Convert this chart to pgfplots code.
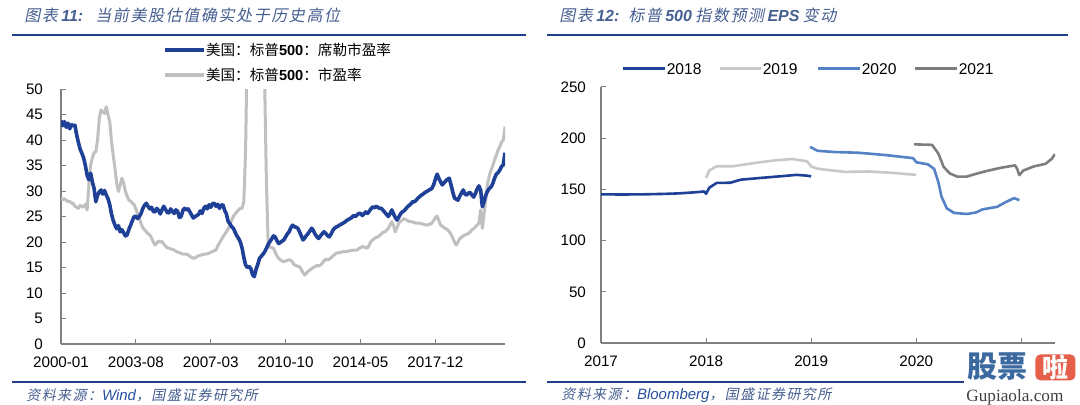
\documentclass[border=0pt]{standalone}
\usepackage{fontspec}
\usepackage{pgfplots}
\pgfplotsset{compat=1.18}
\setmainfont{Liberation Sans}
\newfontfamily\cjk{Noto Sans CJK SC}
\newfontfamily\cjkit[FakeSlant=0.2,LetterSpace=10]{Noto Sans CJK SC}
\newfontfamily\wmserif{Liberation Serif}
\definecolor{shblue}{RGB}{30,64,150}
\definecolor{pegray}{RGB}{192,192,192}
\definecolor{cA}{RGB}{30,64,150}
\definecolor{cB}{RGB}{200,200,200}
\definecolor{cC}{RGB}{84,130,196}
\definecolor{cD}{RGB}{125,125,125}
\definecolor{axisgray}{RGB}{128,128,128}
\definecolor{rulec}{RGB}{32,62,138}
\definecolor{titlec}{RGB}{70,95,145}
\definecolor{srcblue}{RGB}{40,80,160}
\definecolor{wmblue}{RGB}{60,105,160}
\definecolor{wmred}{RGB}{230,95,75}
\pgfplotsset{
  mystyle/.style={
    scale only axis, axis lines=left,
    axis line style={draw=axisgray, line width=0.6pt, -},
    tick style={draw=axisgray, line width=0.5pt},
    major tick length=2.5pt, tick align=inside,
    ticklabel style={font=\fontsize{7.6}{9}\selectfont, text=black},
    /pgf/number format/assume math mode=true,
    xticklabel style={yshift=-3pt},
  }
}
\begin{document}
\begin{tikzpicture}
\fill[white] (0,0) rectangle (540pt,-202.5pt);
\useasboundingbox (0,0) rectangle (540pt,-202.5pt);
% ---------- titles ----------
\node[anchor=west, inner sep=0, text=titlec] at (12pt,-7.5pt)
  {{\cjkit\fontsize{8}{9}\selectfont 图表}\,{\bfseries\itshape\fontsize{8}{9}\selectfont 11:}};
\node[anchor=west, inner sep=0, text=titlec] at (47.5pt,-7.5pt)
  {\cjkit\fontsize{8}{9}\selectfont 当前美股估值确实处于历史高位};
\node[anchor=west, inner sep=0, text=titlec] at (279.5pt,-7.5pt)
  {{\cjkit\fontsize{8}{9}\selectfont 图表}\,{\bfseries\itshape\fontsize{8}{9}\selectfont 12:}};
\node[anchor=west, inner sep=0, text=titlec] at (314pt,-7.5pt)
  {{\cjkit\fontsize{8}{9}\selectfont 标普}\,{\bfseries\itshape\fontsize{8}{9}\selectfont 500}\,{\cjkit\fontsize{8}{9}\selectfont 指数预测}\,{\bfseries\itshape\fontsize{8}{9}\selectfont EPS}\,{\cjkit\fontsize{8}{9}\selectfont 变动}};
\draw[rulec, line width=1.1pt] (6pt,-17.6pt) -- (263pt,-17.6pt);
\draw[rulec, line width=1.1pt] (273.5pt,-17.6pt) -- (534pt,-17.6pt);
% ---------- left legend ----------
\draw[shblue, line width=1.8pt] (82.5pt,-25pt) -- (102pt,-25pt);
\node[anchor=west, inner sep=0] at (102.8pt,-25pt)
  {\fontsize{7.3}{8}\selectfont{\cjk 美国：标普}\textbf{500}{\cjk ：席勒市盈率}};
\draw[pegray, line width=1.8pt] (82.5pt,-37.5pt) -- (102pt,-37.5pt);
\node[anchor=west, inner sep=0] at (102.8pt,-37.5pt)
  {\fontsize{7.3}{8}\selectfont{\cjk 美国：标普}\textbf{500}{\cjk ：市盈率}};
% ---------- right legend ----------
\draw[cA, line width=1.5pt] (311.5pt,-34.5pt) -- (332.5pt,-34.5pt);
\node[anchor=west, inner sep=0] at (333.2pt,-34.5pt) {\fontsize{7.8}{9}\selectfont 2018};
\draw[cB, line width=1.5pt] (360pt,-34.5pt) -- (380.5pt,-34.5pt);
\node[anchor=west, inner sep=0] at (381.2pt,-34.5pt) {\fontsize{7.8}{9}\selectfont 2019};
\draw[cC, line width=1.5pt] (409pt,-34.5pt) -- (430pt,-34.5pt);
\node[anchor=west, inner sep=0] at (430.7pt,-34.5pt) {\fontsize{7.8}{9}\selectfont 2020};
\draw[cD, line width=1.5pt] (457.5pt,-34.5pt) -- (478.5pt,-34.5pt);
\node[anchor=west, inner sep=0] at (479.2pt,-34.5pt) {\fontsize{7.8}{9}\selectfont 2021};
% ---------- left axis ----------
\begin{axis}[mystyle,
  at={(30.5pt,-172pt)}, anchor=south west,
  width=222pt, height=127.5pt,
  xmin=0, xmax=255, ymin=0, ymax=50,
  xtick={0,43,86,129,172,215},
  xticklabels={2000-01,2003-08,2007-03,2010-10,2014-05,2017-12},
  ytick={0,5,...,50},
  yticklabel style={xshift=-5.5pt},
]
\addplot[pegray, line width=1.5pt, line join=round] coordinates {
(0,28.6)(1,28.3)(2,28.5)(3,28.2)(4,27.9)(5,28.0)(6,27.6)(7,27.6)(8,27.0)(9,26.8)
(10,26.6)(11,27.2)(12,26.9)(13,26.9)(14,27.4)(15,26.3)(16,31.2)(17,35.1)(18,36.5)(19,37.5)
(20,37.7)(21,40.0)(22,44.3)(23,45.9)(24,45.5)(25,45.2)(26,46.5)(27,45.0)(28,43.6)(29,39.7)
(30,37.0)(31,34.4)(32,31.5)(33,29.9)(34,31.2)(35,32.5)(36,31.5)(37,29.9)(38,29.0)(39,28.2)
(40,28.0)(41,27.6)(42,27.3)(43,26.5)(44,25.5)(45,24.6)(46,23.6)(47,22.8)(48,22.4)(49,22.0)
(50,21.6)(51,21.4)(52,20.8)(53,20.0)(54,19.4)(55,19.8)(56,20.2)(57,20.0)(58,20.1)(59,19.6)
(60,19.2)(61,18.9)(62,18.8)(63,18.6)(64,18.6)(65,18.4)(66,18.2)(67,18.0)(68,17.9)(69,17.8)
(70,17.6)(71,17.6)(72,17.6)(73,17.5)(74,17.2)(75,17.0)(76,16.8)(77,16.9)(78,17.1)(79,17.3)
(80,17.4)(81,17.5)(82,17.6)(83,17.6)(84,17.7)(85,17.8)(86,18.0)(87,18.1)(88,18.3)(89,18.4)
(90,19.2)(91,19.8)(92,20.4)(93,21.0)(94,21.5)(95,22.0)(96,22.6)(97,23.4)(98,24.3)(99,25.0)
(100,25.5)(101,25.9)(102,26.3)(103,26.6)(104,26.6)(105,27.9)(106,37.7)(107,60)(108,90)(110,120)
(113,110)(115,80)(116,65)(117,50.8)(118,31.2)(119,19.4)(120,19.0)(121,18.9)(122,18.8)(123,18.0)
(124,17.3)(125,16.8)(126,16.5)(127,16.3)(128,16.1)(129,16.3)(130,16.4)(131,16.5)(132,16.4)(133,16.0)
(134,15.5)(135,15.4)(136,15.2)(137,15.2)(138,14.6)(139,14.0)(140,13.5)(141,13.9)(142,14.3)(143,14.5)
(144,14.8)(145,15.0)(146,15.2)(147,15.4)(148,15.3)(149,15.5)(150,15.8)(151,16.3)(152,16.6)(153,16.5)
(154,16.6)(155,16.9)(156,17.2)(157,17.5)(158,17.8)(159,17.9)(160,17.9)(161,18.0)(162,18.1)(163,18.1)
(164,18.1)(165,18.2)(166,18.3)(167,18.3)(168,18.4)(169,18.4)(170,18.4)(171,18.7)(172,18.9)(173,19.1)
(174,19.0)(175,18.9)(176,18.8)(177,19.4)(178,20.1)(179,20.4)(180,20.7)(181,20.9)(182,21.0)(183,21.3)
(184,21.6)(185,21.9)(186,22.0)(187,22.3)(188,22.7)(189,23.3)(190,24.0)(191,23.2)(192,22.0)(193,22.8)
(194,23.7)(195,24.1)(196,24.3)(197,24.6)(198,24.4)(199,24.2)(200,24.0)(201,24.0)(202,23.9)(203,23.8)
(204,23.7)(205,23.7)(206,23.7)(207,23.6)(208,23.5)(209,23.4)(210,23.3)(211,23.4)(212,23.5)(213,23.7)
(214,24.2)(215,24.8)(216,25.1)(217,24.2)(218,23.3)(219,23.1)(220,22.8)(221,22.6)(222,22.4)(223,22.0)
(224,21.5)(225,20.8)(226,20.0)(227,19.4)(228,20.0)(229,20.7)(230,20.9)(231,21.2)(232,21.4)(233,21.5)
(234,21.7)(235,22.0)(236,22.4)(237,22.6)(238,23.0)(239,23.3)(240,23.7)(241,26.3)(242,22.7)(243,25.6)
(244,28.5)(245,31.5)(246,33.0)(247,34.1)(248,35.0)(249,36.1)(250,37.0)(251,38.0)(252,38.7)(253,39.6)
(254,40.0)(255,42.6)
};
\addplot[shblue, line width=1.8pt, line join=round] coordinates {
(0,43.8)(1,42.8)(2,43.6)(3,42.5)(4,43.3)(5,42.2)(6,43.0)(7,42.8)(8,42.9)(9,41.0)
(10,39.5)(11,38.2)(12,37.4)(13,36.5)(14,35.0)(15,33.1)(16,32.2)(17,33.5)(18,31.8)(19,30.5)
(20,27.9)(21,29.2)(22,29.8)(23,30.2)(24,29.4)(25,30.1)(26,29.2)(27,28.5)(28,27.3)(29,25.5)
(30,24.2)(31,23.3)(32,22.6)(33,23.2)(34,22.0)(35,22.4)(36,21.8)(37,21.2)(38,21.4)(39,22.5)
(40,23.3)(41,24.2)(42,25.0)(43,25.0)(44,24.6)(45,25.0)(46,25.6)(47,26.6)(48,27.2)(49,27.6)
(50,27.0)(51,26.5)(52,26.8)(53,26.0)(54,25.9)(55,26.6)(56,26.2)(57,25.5)(58,26.3)(59,27.0)
(60,26.4)(61,25.8)(62,25.7)(63,26.5)(64,26.0)(65,25.6)(66,26.3)(67,26.0)(68,24.8)(69,25.0)
(70,26.2)(71,26.6)(72,26.3)(73,26.5)(74,25.9)(75,25.3)(76,24.7)(77,25.0)(78,25.2)(79,25.4)
(80,26.1)(81,25.6)(82,26.6)(83,27.0)(84,26.5)(85,27.3)(86,26.8)(87,27.5)(88,27.6)(89,27.0)
(90,27.4)(91,26.6)(92,27.2)(93,27.3)(94,26.2)(95,25.5)(96,24.0)(97,23.6)(98,23.0)(99,22.7)
(100,21.9)(101,21.2)(102,20.7)(103,20.0)(104,18.8)(105,17.0)(106,15.5)(107,15.0)(108,15.2)(109,14.8)
(110,13.6)(111,13.2)(112,14.6)(113,15.6)(114,16.8)(115,17.2)(116,17.6)(117,18.1)(118,18.8)(119,19.5)
(120,20.1)(121,20.6)(122,21.2)(123,21.0)(124,20.3)(125,19.7)(126,19.9)(127,20.2)(128,20.4)(129,21.0)
(130,21.6)(131,22.0)(132,22.8)(133,23.3)(134,23.0)(135,22.9)(136,22.7)(137,22.0)(138,21.2)(139,20.4)
(140,20.8)(141,21.3)(142,21.7)(143,22.2)(144,22.7)(145,22.2)(146,21.5)(147,21.0)(148,20.7)(149,21.2)
(150,21.6)(151,22.0)(152,21.7)(153,21.3)(154,21.0)(155,21.5)(156,22.2)(157,22.7)(158,22.9)(159,23.1)
(160,23.3)(161,23.5)(162,23.7)(163,23.9)(164,24.2)(165,24.4)(166,24.6)(167,24.8)(168,25.2)(169,25.0)
(170,25.3)(171,25.6)(172,25.6)(173,25.2)(174,25.5)(175,25.9)(176,25.6)(177,26.0)(178,26.5)(179,26.9)
(180,26.7)(181,27.0)(182,26.8)(183,26.6)(184,26.6)(185,26.2)(186,25.8)(187,25.4)(188,25.0)(189,25.6)
(190,26.3)(191,25.5)(192,24.8)(193,24.3)(194,24.9)(195,25.5)(196,25.9)(197,26.1)(198,26.5)(199,26.9)
(200,27.2)(201,27.5)(202,27.9)(203,27.9)(204,28.2)(205,28.6)(206,28.9)(207,29.2)(208,29.4)(209,29.7)
(210,29.9)(211,30.1)(212,30.3)(213,30.5)(214,31.2)(215,32.3)(216,33.3)(217,32.5)(218,31.8)(219,31.2)
(220,31.6)(221,32.0)(222,32.3)(223,32.5)(224,31.2)(225,29.8)(226,28.6)(227,28.4)(228,28.2)(229,29.0)
(230,29.6)(231,30.2)(232,29.4)(233,29.2)(234,29.6)(235,29.7)(236,29.2)(237,28.8)(238,29.5)(239,30.4)
(240,31.0)(241,30.2)(242,26.9)(243,28.0)(244,29.2)(245,30.0)(246,30.5)(247,30.8)(248,31.5)(249,32.5)
(250,33.3)(251,33.6)(252,34.1)(253,34.8)(254,35.1)(255,37.5)
};
\end{axis}
% ---------- right axis ----------
\begin{axis}[mystyle,
  at={(300.5pt,-171.5pt)}, anchor=south west,
  width=227pt, height=128pt,
  xmin=2017, xmax=2021.32, ymin=0, ymax=250,
  xtick={2017,2018,2019,2020,2021},
  xticklabels={2017,2018,2019,2020,},
  ytick={0,50,...,250},
  yticklabel style={xshift=-4pt},
]
\addplot[cA, line width=1.3pt, line join=round] coordinates {
(2017.0,145.2)(2017.2,145.0)(2017.41,145.2)(2017.6,145.6)(2017.74,146.1)(2017.9,147.2)(2017.98,148.0)
(2018.0,145.8)(2018.03,151.6)(2018.1,156.3)(2018.23,156.5)(2018.33,159.5)(2018.53,161.3)(2018.73,163.0)
(2018.86,164.2)(2018.95,163.5)(2019.0,162.8)
};
\addplot[cB, line width=1.3pt, line join=round] coordinates {
(2018.0,161.3)(2018.03,168.5)(2018.1,172.6)(2018.26,172.6)(2018.46,175.8)(2018.66,178.4)(2018.82,179.7)
(2018.96,177.4)(2019.0,172.5)(2019.05,170.5)(2019.12,169.4)(2019.32,167.1)(2019.55,167.5)(2019.75,166.3)(2020.0,164.2)
};
\addplot[cC, line width=1.3pt, line join=round] coordinates {
(2018.99,191.5)(2019.06,187.7)(2019.22,186.5)(2019.45,185.8)(2019.71,183.5)(2019.97,180.5)(2020.0,176.5)
(2020.11,174.5)(2020.17,170)(2020.21,157)(2020.24,143)(2020.29,131.5)(2020.36,127)(2020.48,126)
(2020.57,127.5)(2020.63,130.5)(2020.77,133)(2020.84,137)(2020.93,141.5)(2020.98,139.5)
};
\addplot[cD, line width=1.3pt, line join=round] coordinates {
(2019.98,194)(2020.15,193.5)(2020.21,185)(2020.26,172)(2020.32,165.5)(2020.39,162.5)(2020.48,162.5)
(2020.56,165)(2020.67,168)(2020.8,171)(2020.94,173.5)(2020.96,170)(2020.98,164)(2021.02,168.5)
(2021.12,172.5)(2021.23,175)(2021.29,180)(2021.32,184.5)
};
\end{axis}
% ---------- bottom rules and sources ----------
\draw[rulec, line width=1.1pt] (6pt,-191pt) -- (263pt,-191pt);
\draw[rulec, line width=1.1pt] (273.5pt,-191pt) -- (482pt,-191pt);
\node[anchor=west, inner sep=0, text=titlec] at (13pt,-197.5pt)
  {{\cjkit\fontsize{7}{8}\selectfont 资料来源：}{\itshape\fontsize{7.5}{8}\selectfont\color{srcblue} Wind}{\cjkit\fontsize{7}{8}\selectfont ，国盛证券研究所}};
\node[anchor=west, inner sep=0, text=titlec] at (280.5pt,-197.5pt)
  {{\cjkit\fontsize{7}{8}\selectfont 资料来源：}{\itshape\fontsize{7.5}{8}\selectfont\color{srcblue} Bloomberg}{\cjkit\fontsize{7}{8}\selectfont ，国盛证券研究所}};
% ---------- watermark ----------
\node[anchor=west, inner sep=0, text=wmblue] at (483.5pt,-183.5pt)
  {\cjk\bfseries\fontsize{15}{15}\selectfont 股票};
\node[fill=wmred, rounded corners=2.5pt, text=white, minimum width=20pt, minimum height=13pt, inner sep=0] at (527.7pt,-183.7pt)
  {\cjk\bfseries\fontsize{13}{13}\selectfont 啦};
\node[anchor=west, inner sep=0, text=black!75] at (483pt,-198.5pt)
  {\wmserif\fontsize{8.6}{9}\selectfont Gupiaola.com};
\end{tikzpicture}
\end{document}
